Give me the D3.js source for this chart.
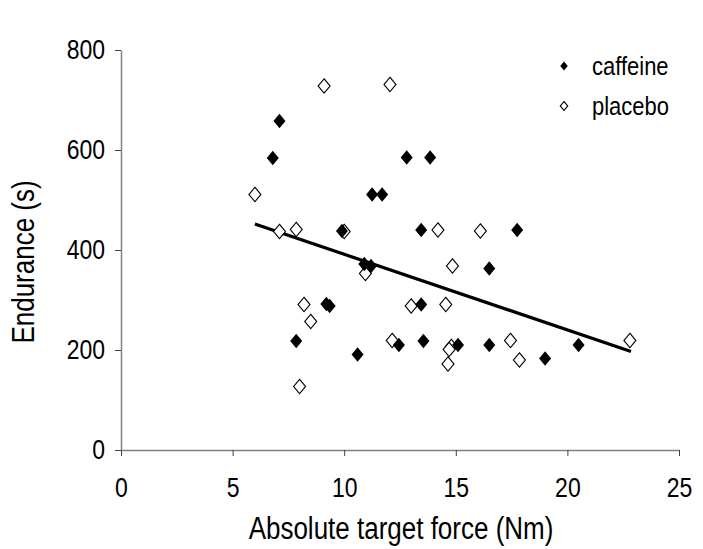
<!DOCTYPE html>
<html>
<head>
<meta charset="utf-8">
<script src="https://cdn.jsdelivr.net/npm/d3@7"></script>
<style>
  body { margin: 0; background: #fff; }
  text { font-family: "Liberation Sans", Arial, sans-serif; fill: #000; }
</style>
</head>
<body>
<div class="grafico"></div>
<script>
// data
var cafeX = [7.1, 6.8, 11.25, 11.7, 9.9, 12.8, 13.85, 13.45, 17.75, 10.9, 11.2, 9.2, 9.35,
             7.85, 10.6, 12.45, 16.5, 13.45, 13.55, 15.1, 16.5, 19.0, 20.5];
var cafeY = [658, 584, 511, 511, 438, 585, 585, 440, 440, 372, 368, 292, 288,
             218, 191, 210, 363, 291, 218, 210, 210, 183, 210];
var plaX = [9.1, 12.05, 6.0, 7.1, 7.85, 14.2, 16.1, 10.0, 10.95, 8.2, 8.5, 8.0, 12.15,
            14.85, 13.0, 14.55, 14.8, 14.7, 14.65, 17.45, 17.85, 22.8];
var plaY = [728, 731, 511, 437, 441, 440, 438, 437, 353, 291, 257, 127, 219,
            368, 288, 291, 207, 201, 172, 219, 180, 219];
var trendX = [6.0, 22.85];
var trendY = [452, 197];
var xTicks = [0, 5, 10, 15, 20, 25];
var yTicks = [0, 200, 400, 600, 800];

var stretch = 1.2; // the text in the picture is drawn a bit taller than wide

var svg = d3.select('.grafico')
  .append('svg')
  .attr('width', 703)
  .attr('height', 549);

const xScale = d3.scaleLinear().domain([0, 25]).range([121, 679]);
const yScale = d3.scaleLinear().domain([0, 800]).range([450, 50]);

const xAxis = d3.axisBottom(xScale).tickValues(xTicks).tickSize(6).tickSizeOuter(0);
const yAxis = d3.axisLeft(yScale).tickValues(yTicks).tickSize(6).tickSizeOuter(0).tickPadding(10);

var gx = svg.append('g')
  .attr('transform', 'translate(0, 450)')
  .call(xAxis);
var gy = svg.append('g')
  .attr('transform', 'translate(121, 0)')
  .call(yAxis);

[gx, gy].forEach(function (g) {
  g.select('.domain').attr('stroke', '#808080').attr('stroke-width', 1.5);
  g.selectAll('.tick line').attr('stroke', '#404040').attr('stroke-width', 1);
  g.selectAll('.tick text')
    .style('font-family', '"Liberation Sans", Arial, sans-serif')
    .style('font-size', '23px')
    .attr('fill', '#000')
    .attr('transform', 'scale(1,' + stretch + ')');
});
gy.selectAll('.tick text').attr('dy', '0.30em');
gx.selectAll('.tick text').attr('dy', 0).attr('y', 47 / stretch);

svg.append('text')
  .attr('transform', 'translate(401, 539) scale(1,' + stretch + ')')
  .attr('text-anchor', 'middle')
  .style('font-size', '26px')
  .text('Absolute target force (Nm)');

svg.append('text')
  .attr('transform', 'translate(34, 262) rotate(-90) scale(1,' + stretch + ')')
  .attr('text-anchor', 'middle')
  .style('font-size', '26px')
  .text('Endurance (s)');

// trend line
svg.append('line')
  .attr('x1', xScale(trendX[0]))
  .attr('y1', yScale(trendY[0]))
  .attr('x2', xScale(trendX[1]))
  .attr('y2', yScale(trendY[1]))
  .attr('stroke', '#000')
  .attr('stroke-width', 3.2);

var diamond = d3.symbol().type(d3.symbolDiamond2).size(92);

svg.selectAll('.pla')
  .data(d3.range(plaX.length))
  .enter()
  .append('path')
  .attr('class', 'pla')
  .attr('d', diamond)
  .attr('transform', function (i) {
    return 'translate(' + xScale(plaX[i]) + ',' + yScale(plaY[i]) + ') scale(1,1.2)';
  })
  .attr('fill', '#fff')
  .attr('stroke', '#000')
  .attr('stroke-width', 1);

svg.selectAll('.cafe')
  .data(d3.range(cafeX.length))
  .enter()
  .append('path')
  .attr('class', 'cafe')
  .attr('d', diamond)
  .attr('transform', function (i) {
    return 'translate(' + xScale(cafeX[i]) + ',' + yScale(cafeY[i]) + ') scale(1,1.2)';
  })
  .attr('fill', '#000');

// legend
var smallDiamond = d3.symbol().type(d3.symbolDiamond2).size(36);
var leyenda = svg.append('g');
leyenda.append('path')
  .attr('d', smallDiamond)
  .attr('transform', 'translate(564, 66) scale(1,1.2)')
  .attr('fill', '#000');
leyenda.append('text')
  .attr('transform', 'translate(592, 75) scale(1,' + stretch + ')')
  .style('font-size', '22px')
  .text('caffeine');
leyenda.append('path')
  .attr('d', smallDiamond)
  .attr('transform', 'translate(564, 106) scale(1,1.2)')
  .attr('fill', '#fff')
  .attr('stroke', '#000')
  .attr('stroke-width', 1);
leyenda.append('text')
  .attr('transform', 'translate(592, 115) scale(1,' + stretch + ')')
  .style('font-size', '22px')
  .text('placebo');
</script>
</body>
</html>
